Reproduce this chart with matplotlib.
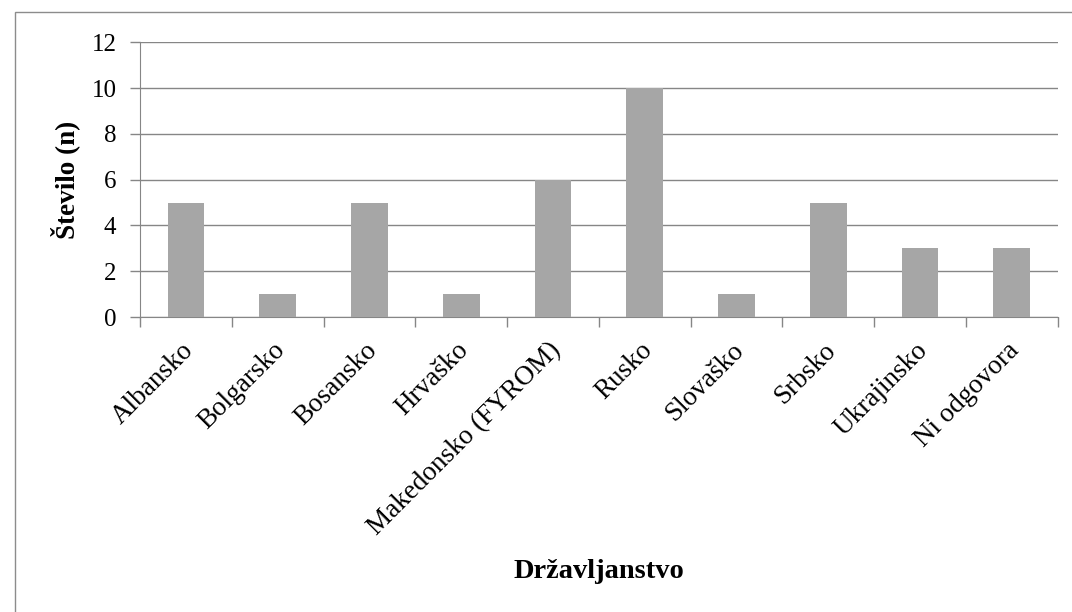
import matplotlib.pyplot as plt
from matplotlib.patches import Rectangle
from matplotlib.transforms import ScaledTranslation

# Število oseb po državljanstvu
drzavljanstva = ["Albansko", "Bolgarsko", "Bosansko", "Hrvaško",
                 "Makedonsko (FYROM)", "Rusko", "Slovaško", "Srbsko",
                 "Ukrajinsko", "Ni odgovora"]
stevilo = [5, 1, 5, 1, 6, 10, 1, 5, 3, 3]

plt.rcParams["font.family"] = ["Liberation Serif", "DejaVu Serif"]

fig = plt.figure(figsize=(10.72, 6.12), dpi=100)
ax = fig.add_axes([0.1306, 0.482, 0.856, 0.449])

# okvir grafikona
fig.patches.append(Rectangle((15 / 1072, -0.1), 1.1, 1 - 12 / 612 + 0.1,
                             transform=fig.transFigure, fill=False,
                             edgecolor="#8c8c8c", linewidth=1.0))

x = range(len(drzavljanstva))
ax.bar(x, stevilo, width=0.4, color="#a6a6a6", zorder=3)

ax.set_xlim(-0.5, len(drzavljanstva) - 0.5)
ax.set_ylim(0, 12)
ax.set_yticks(range(0, 13, 2))
ax.yaxis.grid(True, color="#868686", linewidth=1.0, zorder=0)

for side in ["top", "right"]:
    ax.spines[side].set_visible(False)
ax.spines["left"].set_color("#868686")
ax.spines["bottom"].set_color("#868686")

# oznake kategorij, tick črte na mejah med kategorijami
ax.set_xticks([i - 0.5 for i in range(len(drzavljanstva) + 1)])
ax.set_xticklabels([])
ax.tick_params(axis="x", length=7, color="#868686", width=1.0)
ax.set_xticks(list(x), minor=True)
ax.set_xticklabels(drzavljanstva, minor=True, rotation=45, ha="right",
                   rotation_mode="anchor", fontsize=19.5)
ax.tick_params(axis="x", which="minor", length=0, pad=15)
shift = ScaledTranslation(-0.05, 0, fig.dpi_scale_trans)
for lbl in ax.get_xticklabels(minor=True):
    lbl.set_transform(lbl.get_transform() + shift)
ax.tick_params(axis="y", length=7, color="#868686", width=1.0,
               labelsize=18, pad=10)

ax.set_ylabel("Število (n)", fontsize=19.5, fontweight="bold", labelpad=8)
fig.text((140 + 1058) / 2 / 1072, 1 - 572 / 612, "Državljanstvo",
         fontsize=20.5, fontweight="bold", ha="center", va="center")

fig.savefig("out.png", dpi=100)
